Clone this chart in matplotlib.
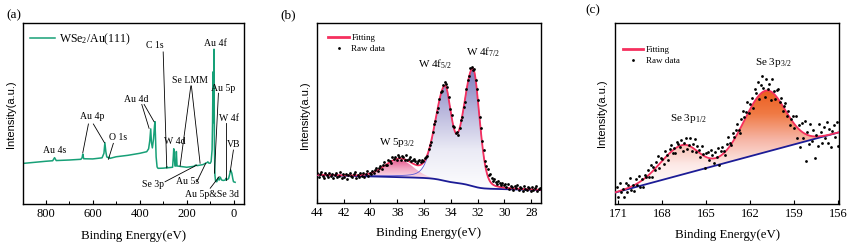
import numpy as np
import matplotlib
matplotlib.use('Agg')
import matplotlib.pyplot as plt
from matplotlib.colors import LinearSegmentedColormap
from matplotlib.patches import PathPatch
from matplotlib.ticker import MultipleLocator

plt.rcParams['font.family'] = ['Liberation Serif', 'DejaVu Serif']
plt.rcParams['mathtext.fontset'] = 'custom'
plt.rcParams['mathtext.rm'] = 'Liberation Serif'
plt.rcParams['mathtext.it'] = 'Liberation Serif:italic'
plt.rcParams['mathtext.bf'] = 'Liberation Serif:bold'

# ---------------- data: (a) survey spectrum ----------------
survey_ev = [890, 800, 770, 762, 755, 700, 650, 645, 642, 638, 600, 560, 552, 548, 544, 540,
             533, 530, 527, 500, 450, 400, 370, 362, 357, 353, 350, 346, 341, 337, 335, 333,
             330, 326, 322, 300, 286, 284, 282, 260, 257, 255, 250, 246, 244, 241, 200, 170,
             162, 155, 130, 120, 112, 110, 106, 100, 96, 92, 90, 88, 86.5, 84, 82, 80, 77,
             72, 70, 66, 62, 57, 52, 45, 36, 33, 30, 22, 17, 13, 8, 4, 1, -6]
survey_int = [22.5, 23.6, 23.9, 25.6, 24.0, 24.3, 24.7, 25.5, 27.6, 25.0, 24.9, 25.5, 28.0, 33.9, 29.0, 26.0,
              25.6, 25.9, 25.2, 26.1, 26.9, 28.0, 28.9, 30.5, 35.0, 41.5, 34.0, 31.0, 36.0, 43.0, 45.5, 38.0,
              26.0, 20.5, 19.7, 19.8, 20.0, 20.6, 20.0, 20.3, 26.0, 30.5, 21.0, 21.0, 29.0, 21.0, 20.3, 20.8,
              21.5, 21.2, 21.8, 22.5, 23.0, 23.3, 22.6, 22.5, 23.5, 30.0, 45.0, 73.0, 45.0, 85.5, 32.0, 16.0, 12.5,
              12.3, 13.0, 14.5, 13.2, 14.8, 13.3, 13.0, 13.2, 14.2, 13.4, 14.0, 16.5, 18.8, 17.0, 14.0, 12.3, 12.0]
survey_label = 'WSe$_2$/Au(111)'
survey_ticks = [800, 600, 400, 200, 0]

# annotations: text, text position (eV, int), list of leader lines (x0, y0, x1, y1)
ann_a = [
    ('Au 4s', (760, 29.8), []),
    ('Au 4p', (602, 48.1), [(618, 44.2, 642, 28.3), (597, 44.2, 550, 33.9)]),
    ('O 1s', (492, 37.0), [(512, 33.5, 533, 24.7)]),
    ('Au 4d', (415, 57.5), [(391, 55.0, 360, 41.8), (381, 55.0, 339, 45.5)]),
    ('C 1s', (334, 87.8), [(300, 84.0, 284.7, 19.9)]),
    ('W 4d', (249, 34.8), []),
    ('Se LMM', (185, 68.5), [(182.5, 65.2, 228, 21.0), (180, 65.2, 143, 22.5)]),
    ('Au 4f', (79, 88.4), []),
    ('Au 5p', (45, 64.0), [(65, 61.2, 82, 17.0)]),
    ('W 4f', (19.6, 47.5), [(33.6, 44.8, 33.6, 13.3)]),
    ('VB', (-1.7, 32.6), [(1.3, 29.8, 15, 17.8)]),
    ('Se 3p', (343, 11.0), [(292, 12.3, 157, 21.5)]),
    ('Au 5s', (198, 12.2), [(157, 12.3, 119, 22.5)]),
    ('Au 5p&Se 3d', (92, 5.5), [(100, 8.7, 62, 15.1)]),
]

# ---------------- data: (b) W 4f region ----------------
# peaks: name, centre (eV), height, HWHM low-BE side, HWHM high-BE side, Lorentz fraction
w4f_peaks = [('W 4f7/2', 32.35, 65.0, 0.57, 0.85, 0.2),
             ('W 4f5/2', 34.45, 50.5, 0.57, 0.85, 0.2)]
w5p_peak = ('W 5p3/2', 37.8, 9.5, 1.2, 1.3, 0.0)
b_bg_low, b_bg_slope, b_bg_step = 7.0, 0.18, 5.4
b_xlim = (44.0, 27.3)
b_ticks = [44, 42, 40, 38, 36, 34, 32, 30, 28]
b_labels = [('W 4f$_{7/2}$', 31.6, 84.0), ('W 4f$_{5/2}$', 35.2, 77.3), ('W 5p$_{3/2}$', 38.05, 33.3)]
b_raw_x = np.linspace(43.95, 27.35, 167)
b_raw_resid = [0.8, -1.2, 0.3, 1.5, -0.6, -1.8, 0.9, 0.2, -1.1, 1.3, -0.4, 0.7, -1.6, 0.1, 1.1, -0.9, -0.2,
               1.7, -1.3, 0.5, -0.7, 1.0, -1.9, 0.4, 1.4, -0.5, -1.0, 0.6, 1.8, -1.4, 0.2, -0.8, 1.2, -0.3,
               0.9, -1.5, 0.0, 1.6, -1.1, 0.3, -0.6,
               1.2, -0.4, 0.9, 1.8, -0.7, 0.5, 1.4, -1.0, 0.8, 2.0, 0.1, -0.6, 1.5, 0.7, -0.9, 1.9, 0.4,
               1.1, -0.3, 2.2, 0.6, -0.8, 1.6, 1.0, -0.2, 2.4, 0.3, 1.3, 2.8, 0.9, 1.7, 3.0, 2.1, 1.4,
               2.6, 3.2, 1.8, 2.5, 1.2,
               1.5, 0.8, -0.5, 1.2, 0.4, -1.0, 0.9, 1.6, -0.3, 0.7, -1.2, 0.5, 1.4, -0.6, 1.0, 2.2,
               1.8, 2.6, 1.2, -0.8, 0.6, -1.5, 1.1, -0.4, 0.9, -1.3, 0.3, 1.7, -0.7, 0.8, -1.1, 1.3,
               2.0, 0.5, 2.4, 1.1, -0.9, 1.6, -0.2, 1.0, 2.5, 1.4, 3.0, 2.2, 3.5, 1.8, 2.9, 3.8, 2.6,
               4.2, 3.1, 2.0, 3.6, 2.4, 1.5, 3.0, 2.2, 1.2, 2.7, 1.6,
               1.8, 0.5, 2.2, -0.6, 1.4, 0.9, -1.1, 1.6, 0.3, 2.0, -0.8, 1.2, 0.6, -1.4, 1.9, 0.2,
               -0.5, 1.3, 0.8, -1.2, 1.5, -0.3, 0.7, 1.9, -0.9, 0.4, 1.1]

# ---------------- data: (c) Se 3p region ----------------
se_peaks = [('Se 3p3/2', 160.95, 34.0, 1.55, 1.72, 0.0),
            ('Se 3p1/2', 166.65, 16.3, 1.3, 1.7, 0.0)]
c_bg_left, c_bg_right = 6.3, 39.7
c_xlim = (171.22, 155.93)
c_ticks = [171, 168, 165, 162, 159, 156]
c_labels = [('Se 3p$_{3/2}$', 160.4, 78.2), ('Se 3p$_{1/2}$', 166.2, 47.5)]
c_raw_x = np.linspace(171.1, 156.0, 152)
c_raw_resid = [2.5, -3.1, 4.2, -1.0, 0.8, -4.0, 3.3, -2.2, 1.5, 5.0, -1.8, 0.4, -3.5, 2.8, -0.6, 3.9,
               -2.7, 1.1, -4.3, 2.0, 0.2, 3.6, -1.4, 4.6, -2.9, 1.7, -0.8, 3.0, 5.2, -2.0, 2.4,
               1.2, -2.6, 3.8, 0.5, -3.2, 2.2, 4.0, -1.5, 0.9, -2.8, 3.1, 1.6, -0.7, 2.7, -3.6, 1.0,
               3.5, -1.9, 0.3, 4.4, -2.4, 2.0, 5.5, -0.9, 3.2, 1.4, -2.1, 4.8, 0.6, -6.5, 2.3,
               3.0, -1.2, 4.5, 1.8, -2.5, 3.7, 0.4, 5.1, -4.8, 2.6, 4.0, 1.1, -1.6, 3.4, 6.0, 2.1,
               -0.5, 4.7, 1.5, 3.9, 5.6, 0.8, -2.2, 4.2, 6.5, 1.9, 3.1, 7.0, -1.0, 2.8,
               4.5, -2.5, 6.8, 3.2, 8.5, -1.8, 5.0, 9.2, 2.0, -3.5, 6.2, 0.8, 4.0, -4.6, 7.5, 1.5,
               -2.0, 3.6, 5.4, -0.6, 2.8, -3.0, 1.2, 4.1, -1.5, 2.5, -4.0, 0.5, 3.0, -2.2,
               5.5, -6.0, 2.0, -9.5, 4.8, -3.0, 7.2, -15.0, 1.5, -4.5, 6.5, -2.5, 3.5, -12.0, 0.8,
               -5.5, 6.8, 2.2, -3.8, 5.0, -1.2, 7.5, -4.2, 3.0, -6.8, 1.8, 4.5, -2.0, 6.0, -7.5]

# ---------------- styles ----------------
GREEN = '#17a077'
RED = '#f5305e'
NAVY = '#1c1c96'
SANS = ['Liberation Sans', 'DejaVu Sans']
TICK_FS = 9
LABEL_FS = 9.3


def peak(x, c, h, wl, wh, eta):
    d = x - c
    w = np.where(d > 0, wh, wl)
    u = (d / w) ** 2
    return h * ((1 - eta) * np.exp(-np.log(2) * u) + eta / (1 + u))


def gradient_fill(ax, x, ylow, yhigh, colors, y0, y1, zorder=1):
    poly = ax.fill_between(x, ylow, yhigh, facecolor='none', edgecolor='none')
    path = poly.get_paths()[0]
    patch = PathPatch(path, transform=ax.transData, facecolor='none', edgecolor='none')
    ax.add_patch(patch)
    cmap = LinearSegmentedColormap.from_list('g', colors)
    grad = np.linspace(0, 1, 256).reshape(-1, 1)
    im = ax.imshow(grad, cmap=cmap, aspect='auto', origin='lower',
                   extent=[x.max(), x.min(), y0, y1], zorder=zorder, interpolation='bilinear')
    im.set_clip_path(patch)


def style_axes(ax, xlim, ticks):
    ax.set_xlim(*xlim)
    ax.set_ylim(0, 100)
    ax.set_xticks(ticks)
    ax.set_yticks([])
    ax.tick_params(axis='x', direction='in', length=3, width=0.8, labelsize=TICK_FS, pad=3)
    for s in ax.spines.values():
        s.set_linewidth(1.0)
    ax.set_xlabel('Binding Energy(eV)', fontsize=LABEL_FS)
    ax.set_ylabel('Intensity(a.u.)', fontsize=8, family=SANS)


fig = plt.figure(figsize=(8.51, 2.46), dpi=100)
axa = fig.add_axes([0.02738, 0.17073, 0.25969, 0.73577])
axb = fig.add_axes([0.37215, 0.17602, 0.26322, 0.72927])
axc = fig.add_axes([0.72268, 0.17073, 0.26357, 0.73455])

# ---------------- (a) ----------------
axa.plot(survey_ev, survey_int, color=GREEN, lw=1.1, label=survey_label)
for text, (tx, ty), lines in ann_a:
    axa.text(tx, ty, text, fontsize=7, ha='center', va='center')
    for (x0, y0, x1, y1) in lines:
        axa.plot([x0, x1], [y0, y1], color='black', lw=0.6)
style_axes(axa, (895, -45), survey_ticks)
axa.xaxis.set_minor_locator(MultipleLocator(100))
axa.tick_params(axis='x', which='minor', direction='in', length=2, width=0.7)
axa.legend(loc='upper left', bbox_to_anchor=(0.03, 0.955), frameon=False, fontsize=8.5,
           handlelength=2.1, handletextpad=0.35, borderpad=0, borderaxespad=0)
axa.yaxis.set_label_coords(-0.031, 0.497)
axa.xaxis.set_label_coords(0.5, -0.144)

# ---------------- (b) ----------------
xb = np.linspace(b_xlim[1], b_xlim[0], 1200)
comp4f = sum(peak(xb, *p[1:]) for p in w4f_peaks)
comp5p = peak(xb, *w5p_peak[1:])
cum = np.cumsum(comp4f)
shirley = cum / cum[-1]
bg_b = b_bg_low + b_bg_slope * (xb - xb[0]) + b_bg_step * shirley
env_b = bg_b + comp4f + comp5p
gradient_fill(axb, xb, bg_b, bg_b + comp4f, ['#ffffff', '#eaeaf5', '#b4b2da', '#7674b6'], 6, 77, zorder=1)
gradient_fill(axb, xb, bg_b, bg_b + comp5p, ['#fbe6ee', '#f1a2c0', '#e2447f'], 13, 25, zorder=1.5)
axb.plot(xb, bg_b + comp4f, color='#5a5ad8', lw=0.6, zorder=2)
axb.plot(xb, bg_b, color=NAVY, lw=1.3, zorder=3)
axb.plot(xb, env_b, color=RED, lw=1.3, zorder=4, label='Fitting')
b_fit_at_raw = np.interp(b_raw_x[::-1], xb, env_b)[::-1]
axb.plot(b_raw_x, b_fit_at_raw + np.array(b_raw_resid), 'o', color='black', ms=2.0,
         mew=0, zorder=5, label='Raw data')
style_axes(axb, b_xlim, b_ticks)
for text, tx, ty in b_labels:
    axb.text(tx, ty, text, fontsize=8, ha='center', va='center')
axb.legend(loc='upper left', bbox_to_anchor=(0.052, 0.94), frameon=False, fontsize=6.5,
           handlelength=2.3, handletextpad=0.25, borderpad=0, borderaxespad=0, labelspacing=0.3)
axb.yaxis.set_label_coords(-0.032, 0.49)
axb.xaxis.set_label_coords(0.5, -0.138)

# ---------------- (c) ----------------
xc = np.linspace(c_xlim[1], c_xlim[0], 1200)
bg_c = c_bg_right + (c_bg_left - c_bg_right) * (xc - c_xlim[1]) / (c_xlim[0] - c_xlim[1])
comp_se = sum(peak(xc, *p[1:]) for p in se_peaks)
env_c = bg_c + comp_se
gradient_fill(axc, xc, bg_c, env_c, ['#ffffff', '#fde9e6', '#f6b4a4', '#f07a44', '#ec5a1c'], 8, 64)
axc.plot(xc, bg_c, color=NAVY, lw=1.3, zorder=3)
axc.plot(xc, env_c, color=RED, lw=1.3, zorder=4, label='Fitting')
c_fit_at_raw = np.interp(c_raw_x[::-1], xc, env_c)[::-1]
axc.plot(c_raw_x, c_fit_at_raw + np.array(c_raw_resid), 'o', color='black', ms=2.0,
         mew=0, zorder=5, label='Raw data')
style_axes(axc, c_xlim, c_ticks)
for text, tx, ty in c_labels:
    axc.text(tx, ty, text, fontsize=8, ha='center', va='center')
axc.legend(loc='upper left', bbox_to_anchor=(0.034, 0.878), frameon=False, fontsize=6.5,
           handlelength=2.3, handletextpad=0.25, borderpad=0, borderaxespad=0, labelspacing=0.3)
axc.yaxis.set_label_coords(-0.035, 0.5)
axc.xaxis.set_label_coords(0.5, -0.138)

for ax in (axb, axc):
    leg = ax.get_legend()
    leg.get_lines()[0].set_linewidth(2.0)

# panel labels
fig.text(13.5 / 851, 1 - 15 / 246, '(a)', fontsize=9.5, ha='center', va='center')
fig.text(288 / 851, 1 - 15 / 246, '(b)', fontsize=9.5, ha='center', va='center')
fig.text(593 / 851, 1 - 10 / 246, '(c)', fontsize=9.5, ha='center', va='center')

fig.savefig('out.png', dpi=100)
